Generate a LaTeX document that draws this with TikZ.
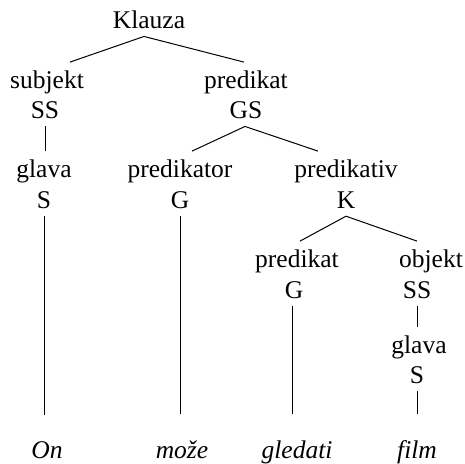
\documentclass[tikz,border=0pt]{standalone}
\usepackage{fontspec}
\setmainfont{Liberation Serif}
\begin{document}
\begin{tikzpicture}[x=1pt,y=-1pt,
  lbl/.style={anchor=base,inner sep=8pt,font=\fontsize{25.5}{30}\selectfont},
  word/.style={lbl,font=\fontsize{25.5}{30}\selectfont\itshape},
  edge/.style={line width=1pt},
  longedge/.style={edge,shorten >=18pt}]
\useasboundingbox (0,0) rectangle (465,463);
% labels
\node[lbl] (klauza) at (149,28) {Klauza};
\node[lbl] (subj) at (47,88) {subjekt};
\node[lbl] (subjSS) at (45,118) {SS};
\node[lbl] (pred) at (246,88) {predikat};
\node[lbl] (predGS) at (246,118) {GS};
\node[lbl] (glava) at (44,177) {glava};
\node[lbl] (glavaS) at (44,208) {S};
\node[lbl] (predtor) at (180,177) {predikator};
\node[lbl] (predtorG) at (180,208) {G};
\node[lbl] (prediv) at (346,177) {predikativ};
\node[lbl] (predivK) at (346,208) {K};
\node[lbl] (predb) at (297,267) {predikat};
\node[lbl] (predbG) at (294,298) {G};
\node[lbl] (obj) at (431,267) {objekt};
\node[lbl] (objSS) at (417,298) {SS};
\node[lbl] (glavab) at (419,353) {glava};
\node[lbl] (glavabS) at (417,383) {S};
% words
\node[word] (on) at (47,458) {On};
\node[word] (moze) at (182,458) {može};
\node[word] (gledati) at (297,458) {gledati};
\node[word] (film) at (417,458) {film};
% connectors
\draw[edge] ([xshift=23pt]subj.north) -- ([xshift=-5pt]klauza.south) -- ([xshift=-2pt]pred.north);
\draw[edge] (subjSS.south) -- (subjSS.south |- glava.north);
\draw[edge] ([xshift=12pt]predtor.north) -- ([xshift=-1pt]predGS.south) -- ([xshift=-28pt]prediv.north);
\draw[edge] ([xshift=3pt]predb.north) -- (predivK.south) -- (obj.north -| objSS.south);
\draw[edge] (objSS.south) -- (objSS.south |- glavab.north);
\draw[longedge] (glavaS.south) -- (glavaS.south |- on.north);
\draw[longedge] (predtorG.south) -- (predtorG.south |- moze.north);
\draw[longedge] ([xshift=-2pt]predbG.south) -- ([xshift=-2pt]predbG.south |- gledati.north);
\draw[longedge] (glavabS.south) -- (glavabS.south |- film.north);
\end{tikzpicture}
\end{document}
